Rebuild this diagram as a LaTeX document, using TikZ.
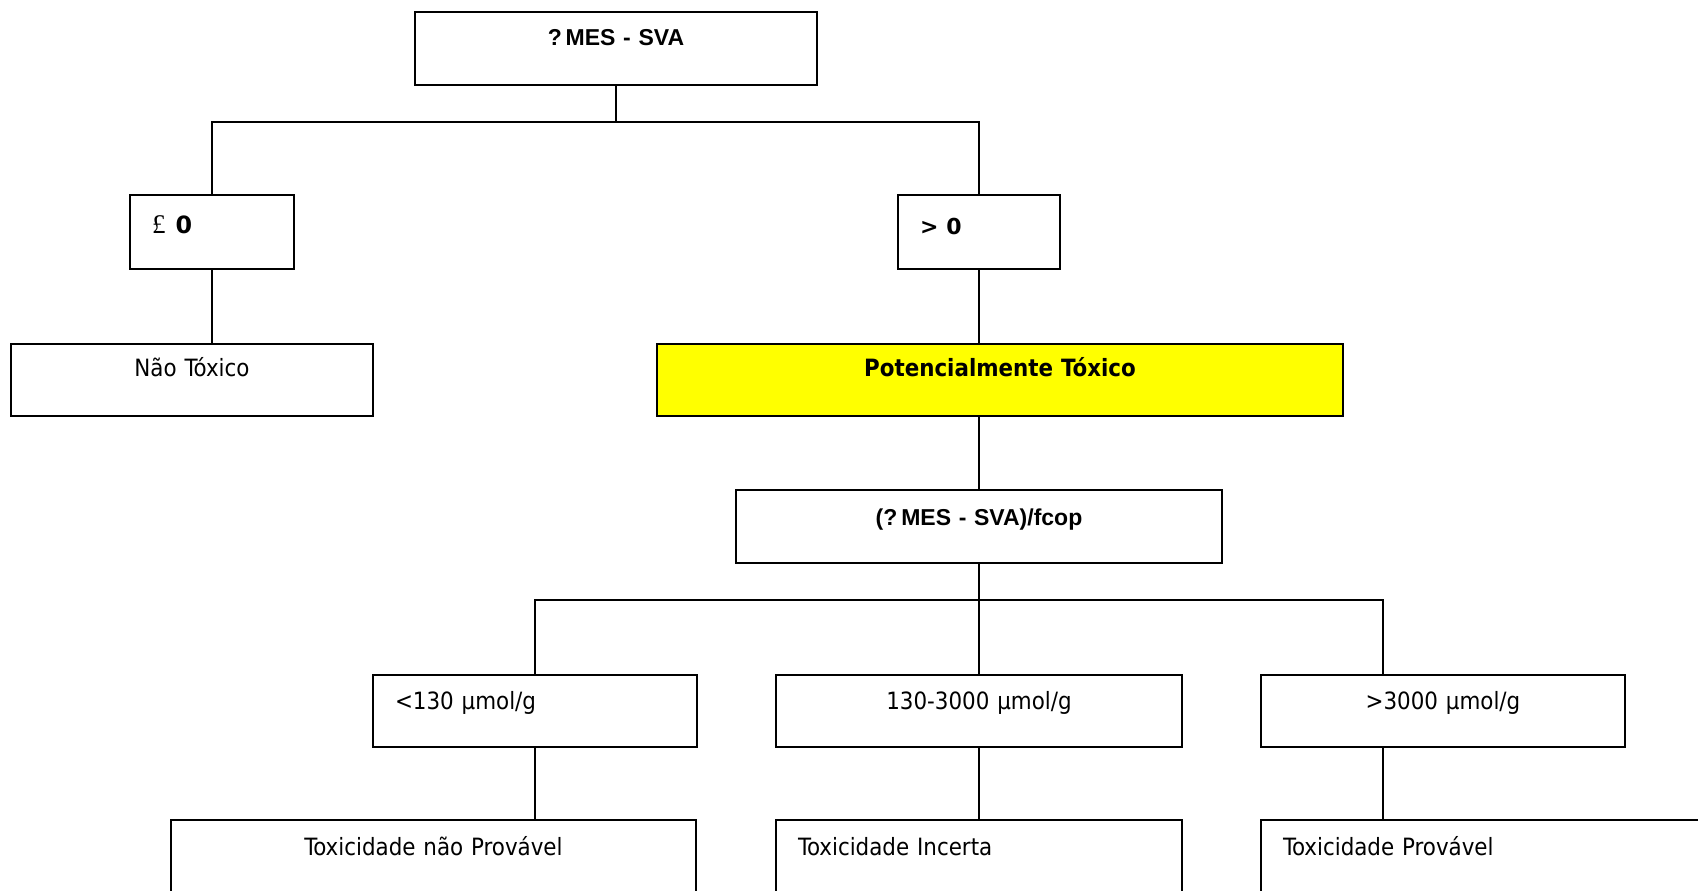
\documentclass[tikz,border=0pt]{standalone}
\usepackage{fontspec}
\setmainfont{DejaVu Sans Condensed}
\newfontfamily\arialfont{Liberation Sans}
\newfontfamily\serifsym{Liberation Serif}
\newfontfamily\widefont{DejaVu Sans}
\definecolor{potyellow}{RGB}{255,255,0}

\begin{document}
\begin{tikzpicture}[x=1pt, y=-1pt, line width=1.8pt]
        \tikzstyle{block} = [draw, rectangle, anchor=north west, outer sep=0pt, inner sep=0pt, inner xsep=22pt,
                             text height=34pt, text depth=39pt, align=center,
                             font=\fontsize{23.8}{28}\selectfont]
        \tikzstyle{head} = [font=\arialfont\bfseries\fontsize{23}{27}\selectfont]

        \clip (0,0) rectangle (1698,891);

        \node [block, head, text width=358pt] (delta) at (415,12) {?\,MES - SVA};
        \node [block, align=left, text width=120pt, text height=38pt, text depth=36pt] (leq) at (130,195)
              {{\serifsym\fontsize{27}{30}\selectfont £}\hspace{10pt}{\widefont\bfseries 0}};
        \node [block, align=left, text width=118pt, text height=39pt, text depth=35pt] (gtz) at (898,195)
              {\widefont\bfseries\fontsize{22}{27}\selectfont > 0};
        \node [block, text width=318pt, text height=32pt, text depth=40pt] (naotox) at (11,344) {Não Tóxico};
        \node [block, fill=potyellow, text width=642pt, text height=32pt, text depth=40pt] (pottox) at (657,344)
              {\textbf{Potencialmente Tóxico}};
        \node [block, head, text width=442pt, text height=35pt, text depth=38pt] (fcop) at (736,490)
              {(?\,MES - SVA)/fcop};

        \node [block, align=left, text width=280pt, text depth=38pt] (low) at (373,675) {<130 µmol/g};
        \node [block, text width=362pt, text depth=38pt] (mid) at (776,675) {130-3000 µmol/g};
        \node [block, text width=320pt, text depth=38pt] (high) at (1261,675) {>3000 µmol/g};

        \node [block, text width=481pt, text height=35pt] (tlow) at (171,820) {Toxicidade não Provável};
        \node [block, align=left, text width=362pt, text height=35pt] (tmid) at (776,820) {Toxicidade Incerta};
        \node [block, align=left, text width=456pt, text height=35pt] (thigh) at (1261,820) {Toxicidade Provável};

        \coordinate (split1) at (616,122);
        \coordinate (split2) at (979,600);
        \coordinate (col3) at (1383,600);

        % first split
        \draw (delta.south) -- (delta.south |- split1);
        \draw (leq.north) |- (split1) -| (gtz.north);
        \draw (leq.south) -- (leq.south |- naotox.north);
        \draw (gtz.south) -- (gtz.south |- pottox.north);
        \draw (pottox.south -| fcop.north) -- (fcop.north);

        % second split
        \draw (fcop.south) -- (fcop.south |- split2);
        \draw (low.north) |- (split2) -- (col3) -- (col3 |- high.north);
        \draw (mid.north) -- (mid.north |- split2);
        \draw (low.south) -- (tlow.north -| low.south);
        \draw (mid.south) -- (tmid.north -| mid.south);
        \draw (col3 |- high.south) -- (col3 |- thigh.north);
    \end{tikzpicture}
\end{document}
